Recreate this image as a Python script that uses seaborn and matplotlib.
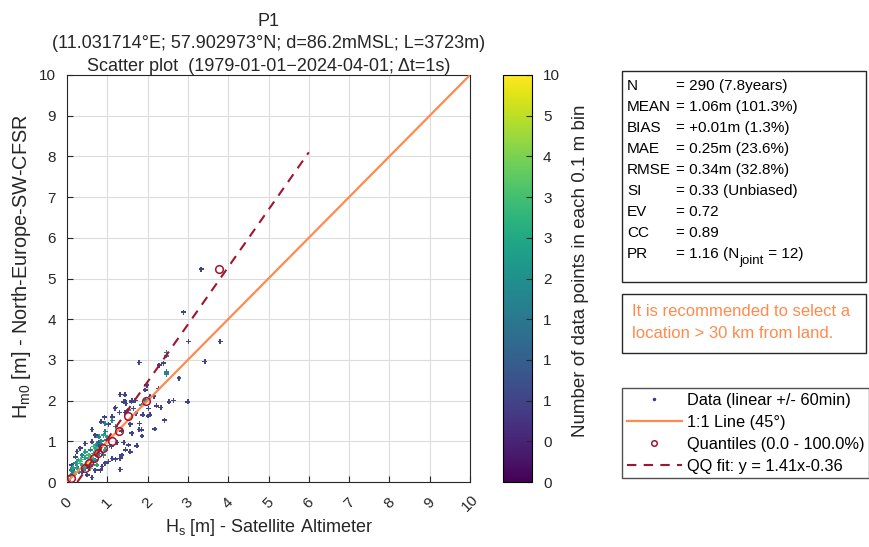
import numpy as np
import pandas as pd
import matplotlib
matplotlib.use("Agg")
import matplotlib.pyplot as plt
import seaborn as sns
from matplotlib.patches import Rectangle
from matplotlib.lines import Line2D
from matplotlib.cm import ScalarMappable
from matplotlib.colors import Normalize

# ---------------- data ----------------
hs_sat = [2.89, 3.33, 3.01, 3.80, 1.79, 3.42, 2.47, 2.47, 2.29, 2.39, 2.47, 2.47, 2.78, 3.00, 2.64,
          2.53, 2.22, 2.33, 2.42, 2.18, 2.27, 1.98, 1.94, 1.94, 1.32, 1.44, 1.44, 1.46, 1.61, 1.69,
          2.06, 2.16, 2.02, 1.88, 2.06, 1.80, 1.85, 1.73, 1.32, 1.19, 1.30, 1.44, 1.52, 1.65, 1.85,
          1.20, 1.41, 1.60, 1.71, 1.12, 0.93, 0.85, 1.03, 1.57, 2.01, 1.79, 1.61, 1.35, 0.62, 0.70,
          0.62, 0.79, 0.83, 1.10, 1.24, 1.41, 1.53, 1.45, 1.36, 1.32, 1.20, 1.57, 1.86, 0.33, 0.21,
          0.12, 0.29, 0.37, 0.54, 0.70, 0.87, 0.95, 1.03, 1.12, 0.50, 0.83, 0.62, 0.45, 0.25, 0.15,
          0.95, 1.12, 1.20, 0.95, 0.79, 0.91, 0.99, 0.87, 0.70, 0.58, 0.45, 0.37, 0.29, 0.21, 0.37,
          0.66, 0.79, 0.91, 0.95, 0.54, 0.70, 0.74, 0.45, 0.58,
          0.66, 0.74, 0.54, 0.50, 0.33, 0.58, 0.53,
          0.05, 0.10, 0.15, 0.20, 0.25, 0.10, 0.30,
          0.15, 0.25, 0.35, 0.45, 0.60, 0.65, 0.40, 0.80, 0.85, 1.00, 1.05, 0.75]
hm0_model = [4.17, 5.23, 3.45, 3.45, 2.94, 2.96, 3.18, 3.10, 2.87, 2.92, 2.71, 2.65, 2.55, 1.97, 2.00,
             1.97, 1.87, 1.83, 1.52, 1.30, 2.30, 2.38, 2.26, 2.01, 2.15, 2.14, 1.99, 1.93, 2.00, 2.00,
             2.10, 2.11, 1.81, 1.65, 1.65, 1.44, 1.28, 0.89, 0.31, 1.81, 1.71, 1.71, 1.77, 1.81, 1.89,
             1.83, 1.97, 1.97, 1.69, 1.60, 1.59, 1.48, 1.42, 1.42, 1.62, 1.29, 1.20, 1.26, 1.29, 1.15,
             0.99, 0.97, 0.88, 0.87, 0.97, 0.97, 0.91, 0.79, 0.66, 0.58, 0.56, 0.74, 1.13, 0.83, 0.62,
             0.42, 0.33, 0.25, 0.33, 0.29, 0.38, 0.46, 0.50, 0.58, 0.17, 0.29, 0.11, 0.95, 0.75, 0.30,
             1.44, 1.51, 1.36, 1.24, 1.11, 1.15, 1.03, 0.91, 0.87, 0.79, 0.74, 0.66, 0.54, 0.46, 0.42,
             0.70, 0.70, 0.66, 0.79, 0.58, 0.54, 0.42, 0.38, 0.42,
             0.87, 0.79, 0.66, 0.46, 0.50, 0.33, 0.47,
             0.05, 0.15, 0.25, 0.20, 0.35, 0.30, 0.25,
             0.35, 0.45, 0.55, 0.60, 0.60, 0.55, 0.30, 0.80, 1.00, 1.10, 0.90, 0.95]
n_in_bin = [1, 1, 1, 1, 1, 1, 2, 2, 1, 1, 2, 2, 1, 1, 1,
            1, 1, 1, 1, 1, 1, 1, 1, 2, 1, 1, 1, 1, 1, 1,
            1, 1, 1, 1, 1, 1, 1, 1, 1, 1, 1, 1, 2, 1, 2,
            1, 1, 1, 1, 1, 1, 1, 1, 1, 1, 1, 1, 1, 1, 1,
            1, 1, 1, 1, 1, 1, 1, 1, 1, 1, 1, 1, 1, 1, 1,
            1, 1, 1, 1, 1, 1, 1, 1, 1, 1, 1, 1, 1, 1, 1,
            2, 2, 3, 2, 2, 3, 2, 2, 3, 2, 3, 2, 3, 2, 3,
            3, 2, 2, 3, 3, 2, 3, 3, 2,
            4, 4, 4, 4, 4, 4, 10,
            3, 3, 2, 4, 3, 2, 2,
            3, 3, 4, 3, 4, 3, 2, 3, 2, 3, 2, 2]

quant_x = [0.09, 0.45, 0.55, 0.68, 0.78, 0.89, 1.11, 1.29, 1.51, 1.96, 3.78]
quant_y = [0.11, 0.34, 0.47, 0.58, 0.72, 0.84, 1.01, 1.25, 1.61, 2.00, 5.23]

one_to_one = [0, 10]
qq_slope, qq_intercept = 1.41, -0.36
qq_x = [0.255, 6.0]

cbar_tick_labels = ["0", "0", "1", "1", "1", "2", "3", "3", "4", "5", "10"]
axis_ticks = list(range(0, 11))

stats_names = ["N", "MEAN", "BIAS", "MAE", "RMSE", "SI", "EV", "CC", "PR"]
stats_values = ["= 290 (7.8years)", "= 1.06m (101.3%)", "= +0.01m (1.3%)", "= 0.25m (23.6%)",
                "= 0.34m (32.8%)", "= 0.33 (Unbiased)", "= 0.72", "= 0.89", "= 1.16 (N"]
pr_sub, pr_tail = "joint", " = 12)"

# ---------------- style ----------------
plt.rcParams['font.family'] = ['Liberation Sans', 'DejaVu Sans']
plt.rcParams['mathtext.fontset'] = 'custom'
plt.rcParams['mathtext.rm'] = 'Liberation Sans'
plt.rcParams['mathtext.it'] = 'Liberation Sans'
plt.rcParams['mathtext.default'] = 'regular'

ORANGE = '#FF8A4D'
DARKRED = '#A2142F'
INK = '#262626'

W, H = 869, 547
fig = plt.figure(figsize=(W / 100, H / 100), dpi=100)

def fx(px):
    return px / W

def fy(py):
    return 1 - py / H

ax = fig.add_axes([fx(67), fy(482), fx(470) - fx(67), fy(75) - fy(482)])
cax = fig.add_axes([fx(503), fy(482), fx(532) - fx(503), fy(75) - fy(482)])

df = pd.DataFrame({"hs": hs_sat, "hm0": hm0_model, "n": n_in_bin})
df["cval"] = 2 + 8 * np.log(df["n"]) / np.log(10)
df = df.sort_values("cval")

cmap = plt.get_cmap('viridis')
norm = Normalize(0, 10)

ax.grid(True, color='#dcdcdc', linewidth=0.8, zorder=0)
ax.set_axisbelow(True)

sns.scatterplot(data=df, x="hs", y="hm0", hue="cval", palette="viridis", hue_norm=(0, 10),
                marker='P', s=12, linewidth=0, legend=False, ax=ax, zorder=3)

ax.plot(one_to_one, one_to_one, color=ORANGE, lw=1.6, zorder=4)
ax.plot(quant_x, quant_y, ls='none', marker='o', ms=5.5, mfc='none', mec=DARKRED, mew=1.1, zorder=5)
qq_y = [qq_slope * v + qq_intercept for v in qq_x]
ax.plot(qq_x, qq_y, color=DARKRED, lw=1.5, ls=(0, (4.5, 3.5)), zorder=5)

ax.set_xlim(0, 10)
ax.set_ylim(0, 10)
ax.set_xticks(axis_ticks)
ax.set_yticks(axis_ticks)
ax.tick_params(axis='both', direction='in', length=4, labelsize=11, colors=INK, labelcolor=INK)
ax.tick_params(axis='y', pad=8)
ax.tick_params(axis='x', pad=15)
for lab in ax.get_xticklabels():
    lab.set_rotation(45)
    lab.set_ha('center')
    lab.set_va('center')
for s in ax.spines.values():
    s.set_color(INK)
    s.set_linewidth(0.8)
ax.set_xlabel(r"H$_{\mathregular{s}}$ [m] - Satellite Altimeter", fontsize=13, color=INK, labelpad=2)
ax.set_ylabel(r"H$_{\mathregular{m0}}$ [m] - North-Europe-SW-CFSR", fontsize=14.3, color=INK)
ax.yaxis.set_label_coords(-0.084, 0.53)

# colorbar
sm = ScalarMappable(norm=norm, cmap=cmap)
cb = fig.colorbar(sm, cax=cax)
cb.set_ticks(axis_ticks)
cb.set_ticklabels(cbar_tick_labels)
cax.tick_params(direction='in', length=4, labelsize=11, colors=INK, pad=8)
cb.outline.set_linewidth(0.8)
cb.set_label("Number of data points in each 0.1 m bin", fontsize=13.5, color=INK)
cax.yaxis.set_label_coords((572 - 503) / (532 - 503), 0.52)

# title
tx = (fx(67) + fx(470)) / 2
fig.text(tx, fy(26), "P1", ha='center', va='baseline', fontsize=13, color=INK)
fig.text(tx, fy(48), "(11.031714°E; 57.902973°N; d=86.2mMSL; L=3723m)", ha='center', va='baseline',
         fontsize=13, color=INK)
fig.text(tx, fy(71), "Scatter plot  (1979-01-01\u22122024-04-01; \u0394t=1s)", ha='center', va='baseline',
         fontsize=13, color=INK)

# stats box
fig.patches.append(Rectangle((fx(622), fy(282)), fx(866) - fx(622), fy(71) - fy(282),
                             transform=fig.transFigure, fill=False, edgecolor=INK, lw=1.0))
renderer = fig.canvas.get_renderer()
row0, dy = 86, 21.0
last = None
for i, (nm, val) in enumerate(zip(stats_names, stats_values)):
    yy = row0 + i * dy
    fig.text(fx(627), fy(yy), nm, ha='left', va='center', fontsize=11, color='black')
    last = fig.text(fx(676), fy(yy), val, ha='left', va='center', fontsize=11, color='black')
bb = last.get_window_extent(renderer=renderer)
sub = fig.text(bb.x1 / fig.bbox.width, fy(row0 + 8 * dy + 7), pr_sub, ha='left', va='center',
               fontsize=9.5, color='black')
bb2 = sub.get_window_extent(renderer=renderer)
fig.text(bb2.x1 / fig.bbox.width, fy(row0 + 8 * dy), pr_tail, ha='left', va='center',
         fontsize=11, color='black')

# warning box
fig.patches.append(Rectangle((fx(622), fy(353)), fx(866) - fx(622), fy(294) - fy(353),
                             transform=fig.transFigure, fill=False, edgecolor=INK, lw=1.0))
fig.text(fx(632), fy(312), "It is recommended to select a", ha='left', va='center', fontsize=12, color=ORANGE)
fig.text(fx(632), fy(334), "location > 30 km from land.", ha='left', va='center', fontsize=12, color=ORANGE)

# legend
handles = [
    Line2D([], [], ls='none', marker='.', ms=3, color=cmap(0.15)),
    Line2D([], [], color=ORANGE, lw=1.6),
    Line2D([], [], ls='none', marker='o', ms=4, mfc='none', mec=DARKRED, mew=1.1),
    Line2D([], [], color=DARKRED, lw=1.5, ls=(0, (4.5, 3.5))),
]
labels = ["Data (linear +/- 60min)", "1:1 Line (45\u00b0)", "Quantiles (0.0 - 100.0%)", "QQ fit: y = 1.41x-0.36"]
leg = fig.legend(handles, labels, loc='upper left', bbox_to_anchor=(fx(622), fy(388)),
                 bbox_transform=fig.transFigure, fontsize=11.8, frameon=True, fancybox=False,
                 edgecolor=INK, handlelength=3.35, handletextpad=0.3, labelspacing=0.42,
                 borderpad=0.3, borderaxespad=0)
leg.get_frame().set_linewidth(1.0)

fig.savefig("out.png", dpi=100)
